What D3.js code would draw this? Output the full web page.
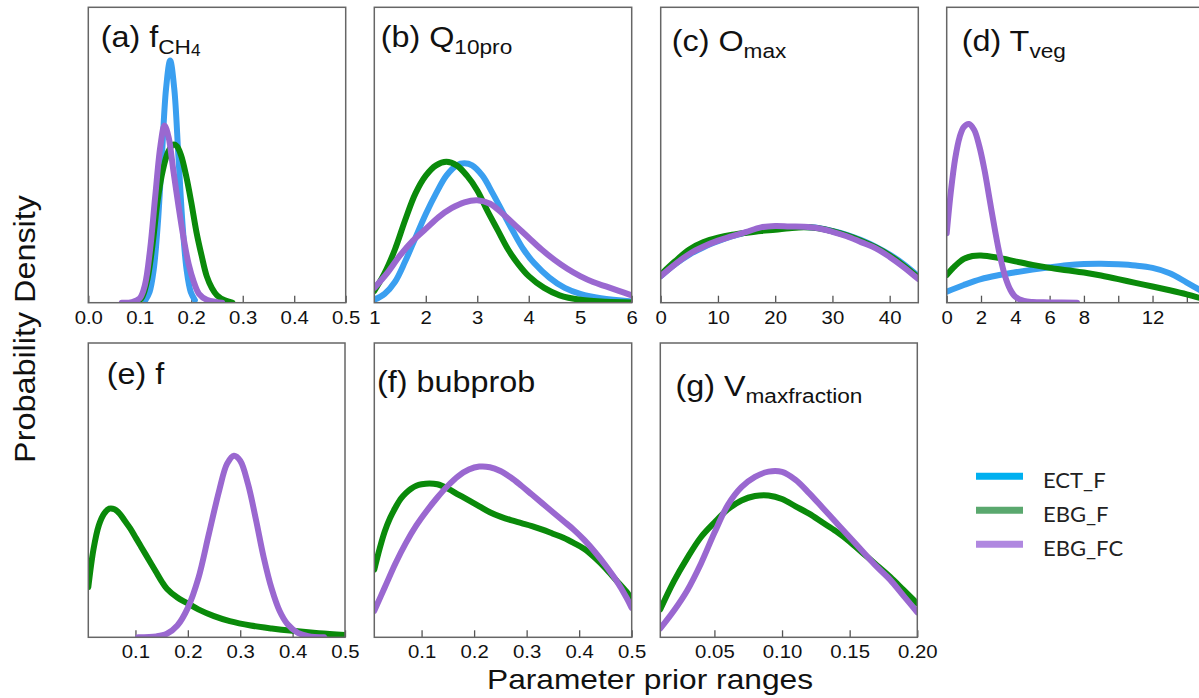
<!DOCTYPE html>
<html><head><meta charset="utf-8">
<script src="https://cdn.jsdelivr.net/npm/d3@7"></script>
<style>
html,body{margin:0;padding:0;background:#fff;overflow:hidden}
svg{display:block}
</style></head>
<body><svg id="chart" width="1199" height="698"></svg>
<script>
// ---------------- DATA (relative density) ----------------
const seriesNames = ["ECT_F", "EBG_F", "EBG_FC"];

// (a) f_CH4
const aECT = [[0.111,0.009],[0.119,0.036],[0.127,0.111],[0.135,0.266],[0.143,0.497],[0.151,0.724],[0.159,0.82],[0.167,0.724],[0.175,0.497],[0.183,0.266],[0.191,0.111],[0.199,0.036],[0.207,0.009]];
const aEBG = [[0.095,0],[0.105,0.02],[0.115,0.08],[0.125,0.2],[0.135,0.35],[0.145,0.45],[0.155,0.51],[0.165,0.535],[0.172,0.53],[0.18,0.5],[0.19,0.43],[0.2,0.34],[0.21,0.24],[0.22,0.16],[0.23,0.09],[0.24,0.05],[0.25,0.025],[0.265,0.008],[0.28,0]];
const aEBGFC = [[0.065,0],[0.085,0.002],[0.1,0.015],[0.11,0.06],[0.12,0.18],[0.13,0.36],[0.14,0.53],[0.148,0.6],[0.156,0.56],[0.165,0.45],[0.175,0.33],[0.185,0.22],[0.195,0.13],[0.205,0.07],[0.215,0.03],[0.23,0.01],[0.25,0.002],[0.26,0]];
const aTicks = [0,0.1,0.2,0.3,0.4,0.5];
const aTickLabels = ["0.0","0.1","0.2","0.3","0.4","0.5"];

// (b) Q10pro
const bECT = [[1,0.01],[1.2,0.03],[1.4,0.07],[1.6,0.14],[1.8,0.22],[2.0,0.3],[2.2,0.37],[2.4,0.43],[2.6,0.465],[2.75,0.472],[2.9,0.465],[3.1,0.43],[3.3,0.37],[3.5,0.305],[3.7,0.24],[3.9,0.18],[4.1,0.135],[4.4,0.085],[4.7,0.05],[5.0,0.03],[5.4,0.015],[6,0.004]];
const bEBG = [[1,0.04],[1.2,0.1],[1.4,0.18],[1.6,0.28],[1.8,0.37],[2.0,0.43],[2.2,0.465],[2.4,0.477],[2.6,0.465],[2.8,0.43],[3.0,0.38],[3.2,0.31],[3.4,0.245],[3.6,0.18],[3.8,0.13],[4.0,0.09],[4.3,0.05],[4.6,0.025],[5.0,0.01],[5.5,0.003],[6,0.001]];
const bEBGFC = [[1,0.05],[1.25,0.1],[1.5,0.16],[1.75,0.21],[2.0,0.25],[2.25,0.29],[2.5,0.32],[2.75,0.34],[3.0,0.347],[3.25,0.335],[3.5,0.3],[3.75,0.26],[4.0,0.22],[4.25,0.18],[4.5,0.145],[4.75,0.115],[5.0,0.09],[5.25,0.07],[5.5,0.055],[5.75,0.04],[6,0.025]];
const bTicks = [1,2,3,4,5,6];
const bTickLabels = ["1","2","3","4","5","6"];

// (c) Omax
const cECT = [[0,0.09],[2.5,0.13],[5,0.163],[7.5,0.188],[10,0.208],[12.5,0.225],[15,0.238],[17.5,0.25],[20,0.255],[22.5,0.256],[25,0.256],[27.5,0.253],[30,0.243],[32.5,0.23],[35,0.212],[37.5,0.19],[40,0.163],[42.5,0.13],[45,0.09]];
const cEBG = [[0,0.095],[2.5,0.14],[5,0.18],[7.5,0.205],[10,0.22],[12.5,0.23],[15,0.237],[17.5,0.243],[20,0.247],[22.5,0.252],[25,0.255],[27.5,0.252],[30,0.242],[32.5,0.228],[35,0.21],[37.5,0.188],[40,0.16],[42.5,0.125],[45,0.085]];
const cEBGFC = [[0,0.09],[2.5,0.13],[5,0.165],[7.5,0.19],[10,0.21],[12.5,0.225],[15,0.24],[17.5,0.255],[20,0.26],[22.5,0.258],[25,0.257],[27.5,0.252],[30,0.24],[32.5,0.225],[35,0.205],[37.5,0.185],[40,0.155],[42.5,0.12],[45,0.08]];
const cTicks = [0,10,20,30,40];
const cTickLabels = ["0","10","20","30","40"];

// (d) Tveg
const dECT = [[0,0.037],[1,0.06],[2,0.08],[3,0.093],[4,0.103],[5,0.112],[6,0.12],[7,0.127],[8,0.131],[9,0.132],[10,0.13],[11,0.126],[12,0.118],[13,0.1],[14,0.068],[15,0.035]];
const dEBG = [[0,0.094],[0.5,0.125],[1,0.148],[1.5,0.158],[2,0.16],[3,0.152],[4,0.14],[5,0.128],[6,0.118],[7,0.11],[8,0.102],[9,0.092],[10,0.08],[11,0.067],[12,0.055],[13,0.042],[14,0.028],[15,0.012]];
const dEBGFC = [[0,0.235],[0.25,0.38],[0.5,0.49],[0.75,0.56],[1.0,0.595],[1.3,0.605],[1.6,0.585],[1.9,0.53],[2.2,0.45],[2.5,0.35],[2.8,0.25],[3.1,0.16],[3.4,0.09],[3.7,0.045],[4.0,0.02],[4.5,0.006],[5,0.002],[6,0.001],[7.6,0]];
const dTicks = [0,2,4,6,8,10,12,14];
const dTickLabels = ["0","2","4","6","8","","12",""];

// (e) f
const eEBG = [[0.01,0.17],[0.02,0.3],[0.03,0.38],[0.04,0.42],[0.05,0.437],[0.06,0.435],[0.07,0.42],[0.08,0.395],[0.09,0.37],[0.1,0.34],[0.11,0.31],[0.12,0.28],[0.13,0.25],[0.14,0.22],[0.15,0.19],[0.16,0.165],[0.18,0.135],[0.2,0.115],[0.22,0.095],[0.25,0.072],[0.28,0.055],[0.32,0.04],[0.36,0.03],[0.4,0.022],[0.45,0.014],[0.5,0.008]];
const eEBGFC = [[0.105,0],[0.14,0.003],[0.16,0.012],[0.18,0.04],[0.2,0.1],[0.22,0.2],[0.24,0.35],[0.26,0.5],[0.275,0.59],[0.288,0.617],[0.3,0.6],[0.315,0.52],[0.33,0.4],[0.345,0.27],[0.36,0.165],[0.375,0.09],[0.39,0.045],[0.41,0.015],[0.43,0.004],[0.46,0]];
const eTicks = [0.1,0.2,0.3,0.4,0.5];
const eTickLabels = ["0.1","0.2","0.3","0.4","0.5"];

// (f) bubprob
const fEBG = [[0.01,0.23],[0.02,0.3],[0.03,0.36],[0.04,0.405],[0.05,0.44],[0.06,0.47],[0.07,0.49],[0.08,0.505],[0.09,0.515],[0.1,0.52],[0.115,0.523],[0.13,0.52],[0.15,0.505],[0.17,0.485],[0.19,0.465],[0.21,0.445],[0.23,0.425],[0.25,0.41],[0.27,0.398],[0.29,0.388],[0.31,0.378],[0.33,0.366],[0.35,0.352],[0.37,0.338],[0.39,0.32],[0.41,0.3],[0.43,0.27],[0.45,0.235],[0.47,0.195],[0.49,0.155],[0.5,0.13]];
const fEBGFC = [[0.01,0.09],[0.03,0.17],[0.05,0.25],[0.07,0.32],[0.09,0.38],[0.11,0.43],[0.13,0.475],[0.15,0.515],[0.17,0.548],[0.19,0.57],[0.21,0.58],[0.23,0.578],[0.25,0.565],[0.27,0.543],[0.29,0.515],[0.31,0.485],[0.33,0.455],[0.35,0.425],[0.37,0.395],[0.39,0.365],[0.41,0.33],[0.43,0.29],[0.45,0.245],[0.47,0.195],[0.49,0.135],[0.5,0.1]];
const fTicks = [0.1,0.2,0.3,0.4,0.5];
const fTickLabels = ["0.1","0.2","0.3","0.4","0.5"];

// (g) Vmaxfraction
const gEBG = [[0.01,0.095],[0.02,0.19],[0.03,0.27],[0.04,0.34],[0.05,0.39],[0.06,0.435],[0.07,0.465],[0.08,0.48],[0.09,0.482],[0.1,0.47],[0.11,0.445],[0.12,0.42],[0.13,0.39],[0.14,0.36],[0.15,0.325],[0.16,0.285],[0.17,0.245],[0.18,0.205],[0.19,0.16],[0.2,0.115]];
const gEBGFC = [[0.01,0.03],[0.02,0.09],[0.03,0.16],[0.04,0.25],[0.05,0.355],[0.06,0.45],[0.07,0.51],[0.08,0.545],[0.09,0.563],[0.1,0.562],[0.11,0.535],[0.12,0.49],[0.13,0.44],[0.14,0.39],[0.15,0.34],[0.16,0.29],[0.17,0.24],[0.18,0.195],[0.19,0.14],[0.2,0.085]];
const gTicks = [0.05,0.1,0.15,0.2];
const gTickLabels = ["0.05","0.10","0.15","0.20"];

const xDomains = [[0,0.5],[1,6],[0,45],[0,15],[0.01,0.5],[0.01,0.5],[0.01,0.2]];
const titleMain = ["(a) f","(b) Q","(c) O","(d) T","(e) f","(f) bubprob","(g) V"];
const titleSub  = ["CH","10pro","max","veg","","","maxfraction"];
const titleSub2 = ["4","","","","","",""];
const xLabel = "Parameter prior ranges";
const yLabel = "Probability Density";

// ---------------- STYLE / LAYOUT ----------------
const colors = {"ECT_F":"#3a9ff0","EBG_F":"#0a8a0a","EBG_FC":"#9a68d0"};
const legendColors = {"ECT_F":"#00b0f0","EBG_F":"#5aa86e","EBG_FC":"#b088e0"};
const FONT = "'Liberation Sans', Arial, Helvetica, sans-serif";
const SX = 1.1; // horizontal stretch of the original lettering

const panels = [
  {left:88.3, top:7.3, w:257.4, h:295.4, data:[aECT,aEBG,aEBGFC], ticks:aTicks, labels:aTickLabels, tx:100.7, ty:47},
  {left:374.3, top:7.3, w:257.4, h:295.4, data:[bECT,bEBG,bEBGFC], ticks:bTicks, labels:bTickLabels, tx:380.7, ty:47},
  {left:660.7, top:7.3, w:257.6, h:295.4, data:[cECT,cEBG,cEBGFC], ticks:cTicks, labels:cTickLabels, tx:671.7, ty:51},
  {left:946.7, top:7.3, w:257.3, h:295.4, data:[dECT,dEBG,dEBGFC], ticks:dTicks, labels:dTickLabels, tx:961.7, ty:51},
  {left:88.3, top:343, w:256.7, h:294.3, data:[null,eEBG,eEBGFC], ticks:eTicks, labels:eTickLabels, tx:106.7, ty:384},
  {left:374.3, top:343, w:257.4, h:294.3, data:[null,fEBG,fEBGFC], ticks:fTicks, labels:fTickLabels, tx:377, ty:392},
  {left:660.3, top:343, w:257.0, h:294.3, data:[null,gEBG,gEBGFC], ticks:gTicks, labels:gTickLabels, tx:675.4, ty:396}
];

const svg = d3.select("#chart");
const defs = svg.append("defs");

panels.forEach((p, i) => {
  const x = d3.scaleLinear().domain(xDomains[i]).range([p.left, p.left + p.w]);
  const y = d3.scaleLinear().domain([0, 1]).range([p.top + p.h, p.top]);
  const g = svg.append("g");

  defs.append("clipPath").attr("id", "clip" + i)
    .append("rect").attr("x", p.left).attr("y", p.top).attr("width", p.w).attr("height", p.h);

  // axis (ticks inward)
  const labMap = new Map(p.ticks.map((t, k) => [t, p.labels[k]]));
  const ax = g.append("g").attr("transform", `translate(0,${p.top + p.h})`)
    .call(d3.axisBottom(x).tickValues(p.ticks).tickSize(-7).tickPadding(8).tickFormat(d => labMap.get(d)));
  ax.select(".domain").remove();
  ax.selectAll(".tick line").attr("stroke", "#555").attr("stroke-width", 1.3);
  ax.selectAll(".tick text").attr("fill", "#111").attr("font-family", FONT).attr("font-size", 18.5)
    .attr("transform", `scale(${SX},1)`);

  // curves
  const line = d3.line().x(d => x(d[0])).y(d => y(d[1])).curve(d3.curveCatmullRom.alpha(0.5));
  const cg = g.append("g").attr("clip-path", `url(#clip${i})`);
  p.data.forEach((arr, k) => {
    if (!arr) return;
    cg.append("path").datum(arr).attr("d", line)
      .attr("fill", "none").attr("stroke", colors[seriesNames[k]])
      .attr("stroke-width", 6).attr("stroke-linejoin", "round").attr("stroke-linecap", "round");
  });

  // box
  g.append("rect").attr("x", p.left).attr("y", p.top).attr("width", p.w).attr("height", p.h)
    .attr("fill", "none").attr("stroke", "#666").attr("stroke-width", 1.5);

  // title
  const t = g.append("text").attr("transform", `translate(${p.tx},${p.ty}) scale(${SX * 0.98},1)`)
    .attr("font-family", FONT).attr("font-size", 30).attr("fill", "#111");
  t.append("tspan").text(titleMain[i]);
  if (titleSub[i]) t.append("tspan").attr("font-size", 21).attr("dy", 7).text(titleSub[i]);
  if (titleSub2[i]) t.append("tspan").attr("font-size", 16).attr("dy", 2).text(titleSub2[i]);
});

// axis titles
svg.append("text").attr("transform", `translate(650,689) scale(${SX * 1.03},1)`)
  .attr("text-anchor", "middle").attr("font-family", FONT).attr("font-size", 28).attr("fill", "#111").text(xLabel);
svg.append("text").attr("transform", `translate(35,329) rotate(-90) scale(${SX * 0.98},1)`)
  .attr("text-anchor", "middle").attr("font-family", FONT).attr("font-size", 30).attr("fill", "#111").text(yLabel);

// legend
const leg = svg.append("g");
const legY = d3.scalePoint().domain(seriesNames).range([476.3, 544.3]);
seriesNames.forEach(n => {
  leg.append("line").attr("x1", 976).attr("x2", 1023).attr("y1", legY(n)).attr("y2", legY(n))
    .attr("stroke", legendColors[n]).attr("stroke-width", 7);
  leg.append("text").attr("x", 1043).attr("y", legY(n) + 12).attr("font-family", "Lato, 'Open Sans', sans-serif")
    .attr("font-size", 22).attr("fill", "#222").text(n);
});
</script></body></html>
